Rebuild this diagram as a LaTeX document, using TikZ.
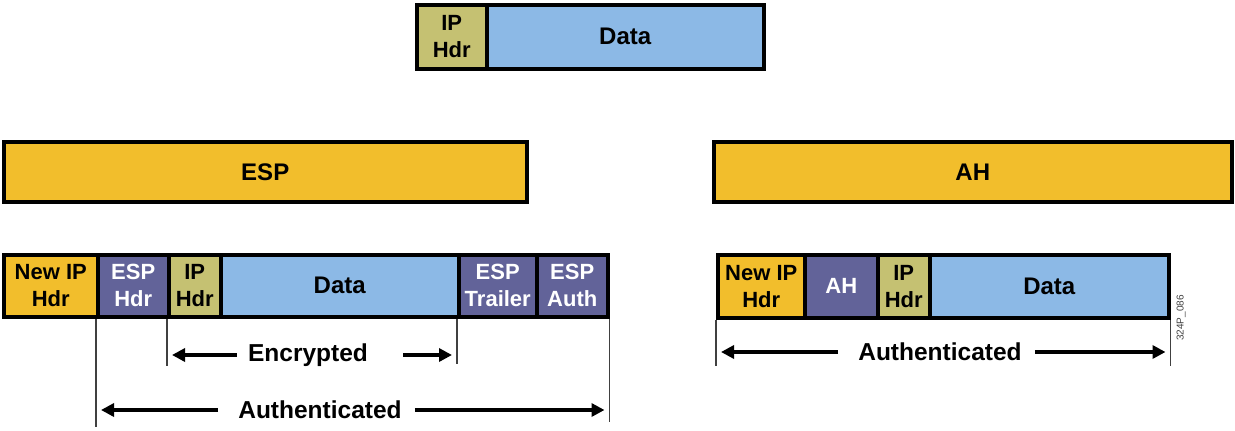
\documentclass[tikz,border=0pt]{standalone}
\usepackage{fontspec}
\setmainfont{Liberation Sans}
\usetikzlibrary{arrows.meta}
\definecolor{gold}{HTML}{F2BE2C}
\definecolor{olive}{HTML}{C5C172}
\definecolor{sky}{HTML}{8CB9E6}
\definecolor{violet}{HTML}{626399}
\begin{document}
\begin{tikzpicture}[x=1pt,y=-1pt,
  cell/.style={draw=black, line width=3.5pt, anchor=north west, inner sep=0pt, align=center,
    font=\fontsize{22}{27}\selectfont\bfseries},
  big/.style={font=\fontsize{24}{28}\selectfont\bfseries},
  vline/.style={line width=1.3pt, draw=black!75},
  arr/.style={line width=4pt, -{Triangle[length=13pt,width=13pt]}, shorten >=5pt},
  lbl/.style={font=\fontsize{24.5}{28}\selectfont\bfseries, inner sep=0pt}
]
\useasboundingbox (0,0) rectangle (1235,431);
% top packet
\node[cell, fill=olive, minimum width=70pt, minimum height=64pt] (tip) at (415,3) {IP\\Hdr};
\node[cell, big, fill=sky, minimum width=277pt, minimum height=64pt] (tdata) at (485,3) {Data};
% mode bars
\node[cell, big, fill=gold, minimum width=523pt, minimum height=60pt] (espbar) at (2,140) {ESP};
\node[cell, big, fill=gold, minimum width=518pt, minimum height=60pt] (ahbar) at (712,140) {AH};
% ESP packet
\node[cell, fill=gold, minimum width=94pt, minimum height=62pt] (enew) at (2,253) {New IP\\Hdr};
\node[cell, fill=violet, text=white, minimum width=71pt, minimum height=62pt] (ehdr) at (96,253) {ESP\\Hdr};
\node[cell, fill=olive, minimum width=52pt, minimum height=62pt] (eip) at (167,253) {IP\\Hdr};
\node[cell, big, fill=sky, minimum width=238pt, minimum height=62pt] (edata) at (219,253) {Data};
\node[cell, fill=violet, text=white, minimum width=78pt, minimum height=62pt] (etrail) at (457,253) {ESP\\Trailer};
\node[cell, fill=violet, text=white, minimum width=71pt, minimum height=62pt] (eauth) at (535,253) {ESP\\Auth};
% AH packet
\node[cell, fill=gold, minimum width=87pt, minimum height=63pt] (anew) at (716,253) {New IP\\Hdr};
\node[cell, fill=violet, text=white, minimum width=73pt, minimum height=63pt] (aah) at (803,253) {AH};
\node[cell, fill=olive, minimum width=52pt, minimum height=63pt] (aip) at (876,253) {IP\\Hdr};
\node[cell, big, fill=sky, minimum width=239pt, minimum height=63pt] (adata) at (928,253) {Data};
% vertical markers
\draw[vline] (ehdr.south west) -- ++(0,108);
\draw[vline] (eip.south west) -- ++(0,47);
\draw[vline] (etrail.south west) -- ++(0,45);
\draw[vline] (eauth.south east) -- ++(0,103);
\draw[vline] (anew.south west) -- ++(0,46);
\draw[vline] (adata.south east) -- ++(0,46);
% labels and arrows
\node[lbl] (enc) at (308,355) {Encrypted};
\draw[arr] ([xshift=-11pt]enc.west) -- (enc.west -| eip.south west);
\draw[arr] ([xshift=35pt]enc.east) -- (enc.east -| etrail.south west);
\node[lbl] (eaut) at (320,410) {Authenticated};
\draw[arr] ([xshift=-20pt]eaut.west) -- (eaut.west -| ehdr.south west);
\draw[arr] ([xshift=13pt]eaut.east) -- (eaut.east -| eauth.south east);
\node[lbl] (aaut) at (940,352) {Authenticated};
\draw[arr] ([xshift=-20pt]aaut.west) -- (aaut.west -| anew.south west);
\draw[arr] ([xshift=13pt]aaut.east) -- (aaut.east -| adata.south east);
% figure id
\node[font=\fontsize{10}{11}\selectfont, text=black!75, rotate=90, inner sep=0pt] (fid) at (1181,318) {324P\_086};
\end{tikzpicture}
\end{document}
